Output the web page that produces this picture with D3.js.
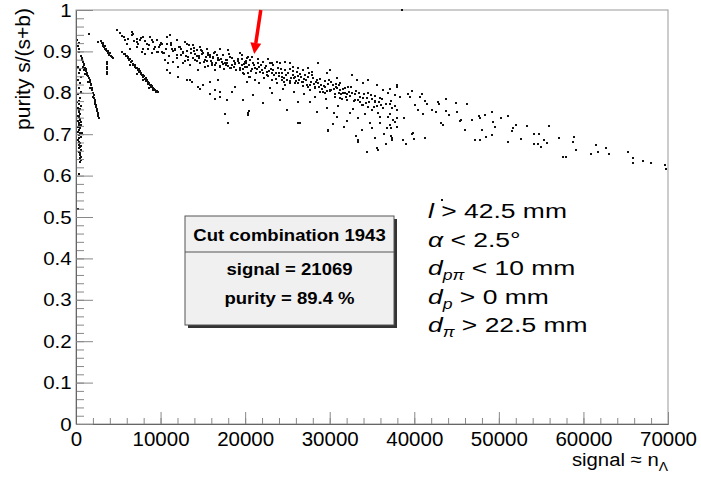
<!DOCTYPE html>
<html>
<head>
<meta charset="utf-8">
<script src="https://cdn.jsdelivr.net/npm/d3@7"></script>
<style>
body { margin: 0; background: #fff; }
text { font-family: "Liberation Sans", Arial, Helvetica, sans-serif; fill: #000; }
</style>
</head>
<body>
<div id="chart"></div>
<script>
// ---- data: [signal, purity] ----
var colNearZero = [[150,0.927],[300,0.921],[200,0.913],[400,0.905],[300,0.898],[250,0.862],[450,0.856],[350,0.849],[550,0.838],[200,0.832],[500,0.823],[300,0.812],[600,0.803],[250,0.796],[450,0.787],[150,0.778],[350,0.773],[550,0.768],[250,0.763],[400,0.758],[300,0.753],[500,0.748],[200,0.745],[350,0.741],[450,0.737],[250,0.733],[550,0.730],[300,0.726],[400,0.722],[200,0.718],[500,0.714],[350,0.710],[250,0.706],[450,0.702],[300,0.698],[550,0.694],[400,0.690],[200,0.686],[350,0.682],[500,0.678],[300,0.674],[450,0.670],[400,0.666],[550,0.662],[350,0.658],[500,0.654],[450,0.650],[600,0.646],[500,0.642],[550,0.638],[450,0.634],[350,0.605],[250,0.520],[650,0.672],[300,0.781],[600,0.722],[700,0.703],[400,0.745],[500,0.735],[450,0.760]];

var arcLow = [[650,0.888],[700,0.880],[750,0.884],[850,0.875],[900,0.870],[1000,0.866],[1050,0.860],[1150,0.857],[1200,0.852],[1300,0.849],[1350,0.843],[1450,0.840],[1500,0.835],[1600,0.832],[1650,0.826],[1750,0.822],[1800,0.818],[1900,0.812],[1950,0.806],[2050,0.800],[2100,0.794],[2150,0.788],[2200,0.782],[2300,0.777],[2350,0.770],[2400,0.765],[2450,0.760],[2500,0.756],[2550,0.751],[2600,0.747],[2650,0.744],[2700,0.740],[2750,0.738],[800,0.862],[1100,0.845],[1400,0.826],[1700,0.812],[2000,0.790],[2250,0.772],[950,0.855]];

var arcSmall = [[2900,0.924],[3050,0.921],[3150,0.917],[3250,0.913],[3350,0.910],[3450,0.906],[3550,0.903],[3650,0.900],[3750,0.897],[3850,0.894],[3950,0.891],[4100,0.889],[4250,0.887],[4380,0.885],[3200,0.921],[3400,0.913],[3600,0.906],[3800,0.900],[4000,0.895],[1580,0.941],[2640,0.923]];

var colSmall = [[3680,0.875],[3680,0.869],[3690,0.863],[3680,0.857],[3690,0.851],[3700,0.846]];

var bandSteep = [[5400,0.899],[5650,0.893],[5800,0.894],[5900,0.888],[6000,0.889],[6100,0.884],[6200,0.886],[6300,0.879],[6400,0.881],[6500,0.874],[6600,0.877],[6700,0.870],[6750,0.866],[6850,0.868],[6950,0.862],[7000,0.866],[7100,0.859],[7200,0.861],[7300,0.855],[7400,0.857],[7450,0.850],[7550,0.852],[7650,0.846],[7700,0.849],[7800,0.842],[7900,0.844],[7950,0.838],[8050,0.840],[8150,0.833],[8250,0.835],[8300,0.829],[8400,0.831],[8500,0.826],[8550,0.822],[8650,0.824],[8750,0.818],[8850,0.820],[8900,0.814],[9000,0.816],[9100,0.811],[9150,0.807],[9250,0.809],[9350,0.806],[9450,0.803],[9550,0.804],[9650,0.801],[7250,0.845],[7900,0.830],[8600,0.812],[6350,0.866]];

var cloudUpper = [[4810,0.952],[5200,0.944],[5680,0.935],[5800,0.927],[6000,0.919],[6580,0.947],[6780,0.943],[6660,0.939],[7180,0.931],[7180,0.923],[7570,0.927],[7700,0.933],[7960,0.935],[7960,0.907],[8360,0.919],[8750,0.935],[8950,0.927],[9120,0.923],[9340,0.911],[9540,0.927],[9540,0.899],[9930,0.915],[10050,0.921],[10130,0.899],[10320,0.895],[10720,0.919],[10800,0.935],[11115,0.939],[11200,0.915],[11310,0.907],[11700,0.903],[11900,0.891],[11950,0.927],[12300,0.911],[12690,0.899],[12890,0.923],[13090,0.919],[13280,0.887],[13400,0.915],[13870,0.915],[14000,0.909],[14270,0.903],[14660,0.911],[14800,0.903],[15050,0.895],[15450,0.907],[15550,0.895],[15840,0.887],[16430,0.899],[16230,0.887],[16830,0.879],[17030,0.907],[17420,0.891],[17810,0.879],[18010,0.903],[18400,0.883],[19390,0.895],[19980,0.875],[20370,0.887],
  [7180,0.911],[7770,0.899],[8550,0.907],[8950,0.895],[9730,0.899],[10520,0.879],[10910,0.871],[11500,0.875],[12100,0.863],[12690,0.871],[13480,0.867],[14070,0.879],[14460,0.855],[15250,0.863],[16040,0.871],[16430,0.855],[17030,0.863],[17620,0.871],[18210,0.859],[18800,0.871],[19390,0.855],[19980,0.863],
  [5400,0.938],[6200,0.931],[6900,0.925],[7350,0.918],[8100,0.925],[8600,0.915],[9200,0.905],[9800,0.910],[8200,0.893],[6400,0.905]];

var cloudLow = [[11115,0.847],[10720,0.855],[12100,0.838],[13090,0.831],[13480,0.831],[13680,0.826],[14460,0.814],[14660,0.810],[15050,0.818],[15840,0.826],[15840,0.798],[16430,0.806],[16430,0.786],[16830,0.831],[17030,0.790],[17030,0.802],[17810,0.782],[18410,0.802],[18800,0.814],[20180,0.826],[17620,0.750],[18010,0.726],[19780,0.782],[20340,0.746],[20500,0.756]];

var cloudCore = [[10200,0.917],[10450,0.897],[10700,0.907],[10950,0.889],[11200,0.921],[11450,0.900],[11700,0.906],[11900,0.884],[12150,0.911],[12400,0.891],[12600,0.897],[12850,0.876],[13100,0.902],[13300,0.880],[13550,0.907],[13800,0.884],[14000,0.900],[14250,0.878],[14500,0.888],[14700,0.871],[14950,0.902],[15200,0.880],[15400,0.887],[15650,0.865],[15900,0.891],[16100,0.866],[16350,0.895],[16600,0.872],[16800,0.885],[17050,0.864],[17300,0.875],[17500,0.857],[17750,0.880],[18000,0.864],[18250,0.886],[18450,0.866],[18700,0.876],[18950,0.856],[19200,0.881],[19400,0.861],[19650,0.868],[19900,0.845],[20100,0.871],[20350,0.849],[20600,0.880],[20800,0.858],[21050,0.867],[21300,0.849],[21500,0.873],[21750,0.851],[21950,0.856],[22200,0.835],[22450,0.864],[22650,0.841],[22900,0.872],[23150,0.848],[23350,0.854],[23600,0.833],[23850,0.860],[24050,0.840],[24300,0.847],[24550,0.826],[24750,0.855],[25000,0.832],[25250,0.858],[25450,0.835],[25700,0.844],[25950,0.823],[26150,0.850],[26400,0.831],[26600,0.838],[26850,0.816],[27100,0.843],[27300,0.819],[27550,0.848],[27800,0.826],[28000,0.835],[28250,0.813],[28500,0.831],[28700,0.813],[28950,0.819],[29200,0.801],[29400,0.828],[29650,0.805],[29900,0.830],[30100,0.807],[30350,0.818],[30600,0.796],[30800,0.821],[31050,0.800],[31250,0.806],[31500,0.786],[31750,0.812],[31950,0.791],[32200,0.813],[32400,0.792],[32650,0.800],[32850,0.780],[33100,0.805],[33350,0.782],[33550,0.791],[33800,0.770],[34050,0.796],[34250,0.776],[34500,0.800],[34700,0.777],[34950,0.786],[35200,0.766],[35400,0.792],[35650,0.768],[35900,0.788],[36100,0.770],
  [14100,0.893],[14600,0.883],[15100,0.875],[15550,0.892],[16000,0.877],[16450,0.868],[16900,0.879],[17350,0.869],[17850,0.873],[18300,0.860],[18800,0.869],[19300,0.872],[19750,0.858],[20200,0.862],[20700,0.853],[21150,0.860],[21650,0.862],[22100,0.847],[22550,0.851],[23000,0.858],[23450,0.843],[23950,0.848],[24400,0.838],[24850,0.842],[25350,0.829],[25800,0.835],[26250,0.840],[26700,0.827],[27200,0.830],[27650,0.818],[28100,0.822],[28600,0.823],[29050,0.810],[29500,0.815],[30000,0.805],[30450,0.808],[30900,0.812],[31350,0.797],[31800,0.800],[32300,0.803]];

var cloudExtra = [[12400,0.905],[12950,0.889],[13600,0.896],[14300,0.888],[14900,0.894],[15500,0.878],[16150,0.883],[16700,0.892],[17200,0.882],[17700,0.866],[18150,0.893],[18650,0.862],[19100,0.877],[19600,0.882],[19850,0.869],
  [20150,0.877],[20450,0.866],[20900,0.872],[21400,0.857],[21850,0.868],[22300,0.861],[22800,0.853],[23250,0.866],[23700,0.848],[24200,0.857],[24650,0.835],[25100,0.849],[25600,0.852],[26050,0.829],[26500,0.846],[26950,0.833],[27400,0.838],[27900,0.843],[28350,0.826],[28800,0.834],[29300,0.817],[29750,0.822],[20500,0.838],[21600,0.824],[22900,0.812],[24500,0.808],[25800,0.801],[27000,0.797],[28300,0.790],[29600,0.786],
  [30200,0.826],[30700,0.815],[31150,0.818],[31600,0.808],[32100,0.796],[32550,0.815],[33000,0.797],[33450,0.800],[33900,0.787],[34400,0.788],[34850,0.795],[35300,0.781],[35800,0.777],[36200,0.784],[36700,0.772],[37200,0.779],[37700,0.769],[31000,0.768],[32700,0.760],[34200,0.748],[36000,0.742],[37500,0.735],[30500,0.752],[32000,0.733],[34800,0.728],[36400,0.700],[31700,0.718],[33100,0.695],[35300,0.690],[36600,0.676]];

var cloudMid = [[19630,0.891],[20220,0.884],[20810,0.886],[21520,0.881],[22110,0.874],[22700,0.881],[23175,0.872],[23765,0.874],[24120,0.872],[24710,0.874],[25305,0.872],[25660,0.862],[26250,0.860],[26840,0.855],[27430,0.860],[27905,0.850],[28615,0.872],[29680,0.847],[30030,0.855],[30860,0.835],[31215,0.823],[32635,0.843],[33225,0.831],[33935,0.823],[34525,0.831],[35590,0.818],[36300,0.806],[36890,0.799],[37955,0.814],
  [19745,0.847],[20575,0.838],[21165,0.831],[21755,0.850],[22585,0.843],[23175,0.831],[23765,0.823],[24355,0.831],[24710,0.818],[25305,0.823],[25895,0.838],[26250,0.823],[26840,0.826],[27430,0.814],[27670,0.806],[28260,0.811],[28850,0.801],[29440,0.799],[30030,0.806],[30625,0.789],[31215,0.787],[31570,0.799],[32045,0.782],[32990,0.782],[33580,0.777],[33935,0.770],[34525,0.765],[35000,0.758],[35355,0.777],[35710,0.751],[36300,0.763],[36890,0.741],[37365,0.763],[37720,0.729],[37955,0.717],
  [20930,0.794],[22110,0.775],[23175,0.799],[24120,0.782],[24950,0.758],[26250,0.777],[27670,0.777],[28495,0.753],[29680,0.763],[30860,0.741],[32400,0.751],[33345,0.738],[33815,0.709],[35000,0.714],[35945,0.726],[36770,0.714],[37365,0.692],[37400,0.685],[29795,0.709],[26250,0.726],[20340,0.751],[33345,0.685],[34405,0.656],[35590,0.666],
  [26490,0.726],[29800,0.707],[30390,0.724],[33345,0.680],[35710,0.661],[38660,0.685],[39850,0.702],[38500,0.999],[43280,0.542]];

var tail = [[37920,0.818],[37720,0.794],[38310,0.790],[39290,0.798],[39690,0.805],[39490,0.790],[40080,0.770],[40670,0.790],[40950,0.797],[41270,0.780],[41470,0.772],[40470,0.758],[40990,0.750],[42060,0.759],[42570,0.754],[42840,0.778],[42960,0.772],[43750,0.785],[43750,0.755],[44140,0.746],[44930,0.776],[45010,0.754],[46190,0.774],[45400,0.732],[46780,0.734],[47690,0.743],[48360,0.746],[49150,0.754],[47770,0.738],[43430,0.722],[45990,0.709],[47970,0.711],[49340,0.730],[49540,0.717],[50210,0.738],[51110,0.743],[52030,0.722],[51630,0.716],[51590,0.707],[53290,0.719],[49150,0.697],[48480,0.693],[47180,0.685],[47770,0.685],[51110,0.681],[52580,0.689],[54150,0.701],[54780,0.701],[55960,0.719],[55340,0.685],[55650,0.679],[54150,0.676],[54590,0.677],[57110,0.691],[37130,0.810],[37150,0.774],[37100,0.750],[37150,0.722],[37300,0.714],[37250,0.695],[37990,0.759],[38000,0.738],[38820,0.738],[39690,0.701],[40000,0.689],[38620,0.685],[38980,0.677],[41270,0.691],[43120,0.728],[45490,0.734],
  [54980,0.669],[58920,0.693],[58800,0.681],[59080,0.663],[57620,0.645],[57900,0.646],[60860,0.653],[61690,0.657],[61480,0.673],[62660,0.667],[63020,0.653],[65300,0.657],[65830,0.642],[65900,0.630],[67010,0.635],[67990,0.630],[69640,0.625],[69720,0.617]];

var selected = { signal: 21069, purity: 0.894 };
var arrowStart = [21850, 1.0];

var xTickValues = [0, 10000, 20000, 30000, 40000, 50000, 60000, 70000];
var yTickValues = [0, 0.1, 0.2, 0.3, 0.4, 0.5, 0.6, 0.7, 0.8, 0.9, 1];
var yTickLabels = ["0", "0.1", "0.2", "0.3", "0.4", "0.5", "0.6", "0.7", "0.8", "0.9", "1"];

var legendLines = ["Cut combination 1943", "signal = " + selected.signal, "purity = " + (selected.purity * 100).toFixed(1) + " %"];

var cutLines = [
  [{t: "l", it: 1}, {t: " > 42.5 mm"}],
  [{t: "\u03b1", it: 1}, {t: " < 2.5\u00b0"}],
  [{t: "d", it: 1}, {t: "p\u03c0", it: 1, sub: 1}, {t: " < 10 mm"}],
  [{t: "d", it: 1}, {t: "p", it: 1, sub: 1}, {t: " > 0 mm"}],
  [{t: "d", it: 1}, {t: "\u03c0", it: 1, sub: 1}, {t: " > 22.5 mm"}]
];

// ---- layout ----
var width = 701, height = 478;
var frame = {left: 76, right: 668, top: 10, bottom: 424};

var x = d3.scaleLinear().domain([0, 70000]).range([frame.left, frame.right]);
var y = d3.scaleLinear().domain([0, 1]).range([frame.bottom, frame.top]);

var svg = d3.select("#chart").append("svg")
    .attr("width", width)
    .attr("height", height);

svg.append("rect")
    .attr("x", frame.left).attr("y", frame.top)
    .attr("width", frame.right - frame.left)
    .attr("height", frame.bottom - frame.top)
    .attr("fill", "none")
    .attr("stroke", "#999");

// scatter
var allPoints = [].concat(colNearZero, arcLow, arcSmall, colSmall, bandSteep,
    cloudUpper, cloudLow, cloudCore, cloudExtra, cloudMid, tail);

svg.append("g").selectAll("rect")
    .data(allPoints)
    .enter().append("rect")
        .attr("x", function(d) { return Math.round(x(d[0])) - 1; })
        .attr("y", function(d) { return Math.round(y(d[1])) - 1; })
        .attr("width", 2)
        .attr("height", 2)
        .attr("fill", "#111");

// x axis
svg.append("g")
    .attr("transform", "translate(0," + frame.bottom + ")")
    .call(d3.axisBottom(x).tickValues(d3.range(0, 70001, 2000)).tickSize(-6).tickSizeOuter(0).tickFormat(""));

var xAxis = svg.append("g")
    .attr("transform", "translate(0," + frame.bottom + ")")
    .call(d3.axisBottom(x).tickValues(xTickValues).tickSize(-12).tickSizeOuter(0).tickPadding(7).tickFormat(d3.format("d")));

xAxis.selectAll("text")
    .style("font-size", "20.5px")
    .attr("fill", "#000");

// y axis
svg.append("g")
    .attr("transform", "translate(" + frame.left + ",0)")
    .call(d3.axisLeft(y).tickValues(d3.range(0, 1.001, 0.02)).tickSize(-8).tickSizeOuter(0).tickFormat(""));

var yAxis = svg.append("g")
    .attr("transform", "translate(" + frame.left + ",0)")
    .call(d3.axisLeft(y).tickValues(yTickValues).tickSize(-17).tickSizeOuter(0).tickPadding(4)
        .tickFormat(function(d, i) { return yTickLabels[i]; }));

yAxis.selectAll("text")
    .style("font-size", "19px")
    .attr("fill", "#000")
    .attr("transform", "scale(1.08,1)");

svg.selectAll(".domain").attr("stroke", "#666");
svg.selectAll(".tick line").attr("stroke", "#888");

// axis titles
svg.append("g")
    .attr("transform", "translate(" + frame.right + ",466) scale(1.07,1)")
    .append("text")
    .style("font-size", "19px")
    .style("text-anchor", "end")
    .text("signal \u2248 n")
    .append("tspan")
        .attr("dy", 5)
        .style("font-size", "13px")
        .text("\u039b");

svg.append("g")
    .attr("transform", "translate(30,8) rotate(-90)")
    .append("text")
    .style("font-size", "21px")
    .style("text-anchor", "end")
    .text("purity s/(s+b)");

// legend box
var box = {x: 185, y: 216, w: 209, h: 109, head: 36};
var legend = svg.append("g");

legend.append("rect")
    .attr("x", box.x + 3).attr("y", box.y + 3)
    .attr("width", box.w).attr("height", box.h)
    .attr("fill", "#333");

legend.append("rect")
    .attr("x", box.x).attr("y", box.y)
    .attr("width", box.w).attr("height", box.h)
    .attr("fill", "#f0f0f0")
    .attr("stroke", "#555");

legend.append("line")
    .attr("x1", box.x).attr("x2", box.x + box.w)
    .attr("y1", box.y + box.head).attr("y2", box.y + box.head)
    .attr("stroke", "#555");

var legendBaselines = [241, 275, 304];
legend.selectAll(".legendText")
    .data(legendLines)
    .enter().append("g")
        .attr("transform", function(d, i) {
            return "translate(" + (box.x + box.w / 2) + "," + legendBaselines[i] + ") scale(1.09,1)";
        })
    .append("text")
        .style("font-size", "17px")
        .style("font-weight", "bold")
        .style("text-anchor", "middle")
        .text(function(d) { return d; });

// cut list on the right
var cuts = svg.append("g")
    .attr("transform", "translate(428,218) scale(1.26,1)");

cutLines.forEach(function(line, i) {
    var t = cuts.append("text")
        .attr("x", 0)
        .attr("y", i * 28.6)
        .style("font-size", "21px");
    var down = false;
    line.forEach(function(seg) {
        var ts = t.append("tspan").text(seg.t);
        if (seg.it) ts.style("font-style", "italic");
        if (seg.sub) {
            ts.attr("dy", 5).style("font-size", "14px");
            down = true;
        } else if (down) {
            ts.attr("dy", -5);
            down = false;
        }
    });
});

// red arrow to the chosen cut
var ax0 = x(arrowStart[0]), ay0 = y(arrowStart[1]);
var ax1 = x(selected.signal), ay1 = y(selected.purity);
var len = Math.sqrt((ax1 - ax0) * (ax1 - ax0) + (ay1 - ay0) * (ay1 - ay0));
var ux = (ax1 - ax0) / len, uy = (ay1 - ay0) / len;
var headLen = 11, headW = 5.5;
var bx = ax1 - ux * headLen, by = ay1 - uy * headLen;

svg.append("line")
    .attr("x1", ax0).attr("y1", ay0)
    .attr("x2", bx).attr("y2", by)
    .attr("stroke", "#f00")
    .attr("stroke-width", 3.5);

svg.append("path")
    .attr("d", "M" + ax1 + "," + ay1 +
        "L" + (bx - uy * headW) + "," + (by + ux * headW) +
        "L" + (bx + uy * headW) + "," + (by - ux * headW) + "Z")
    .attr("fill", "#f00");
</script>
</body>
</html>
